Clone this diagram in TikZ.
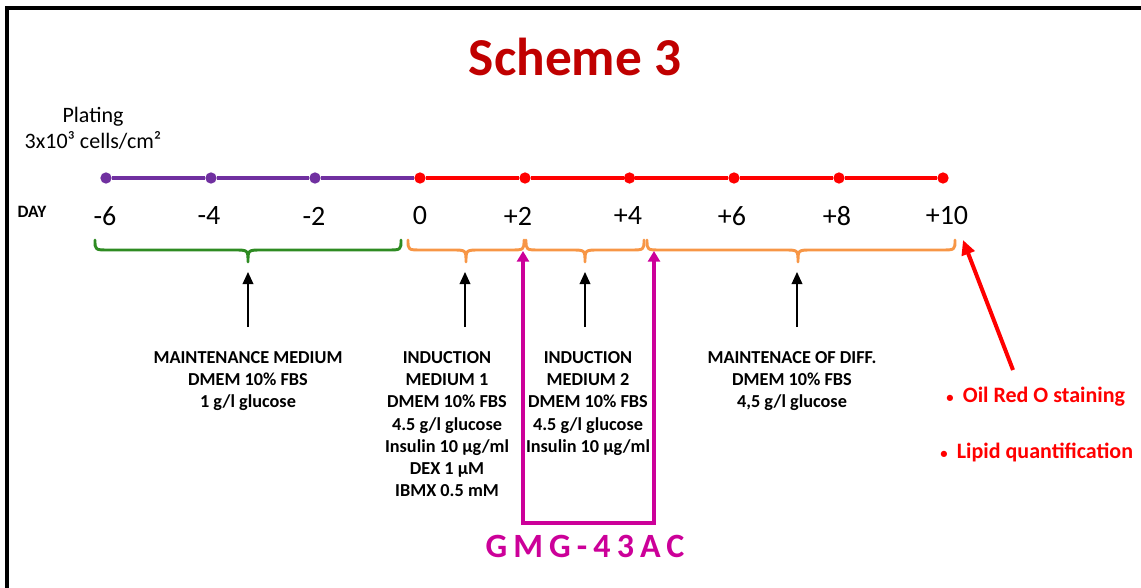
\documentclass[tikz,border=0pt]{standalone}
\usepackage{fontspec}
\setmainfont{Carlito}
\newfontfamily\spacedfont[LetterSpace=18]{Carlito}
\usetikzlibrary{arrows.meta}
\definecolor{titlered}{HTML}{C00000}
\definecolor{tlpurple}{HTML}{7030A0}
\definecolor{tlred}{HTML}{FF0000}
\definecolor{brgreen}{HTML}{2E8B22}
\definecolor{brorange}{HTML}{F79646}
\definecolor{magent}{HTML}{CC0099}
\newcommand\mybrace[4]{\draw[bracestyle,#4] (#1,240) .. controls (#1,250) .. (#1+14,250) -- (#2-14,250) .. controls (#2,250) .. (#2,262) .. controls (#2,250) .. (#2+14,250) -- (#3-14,250) .. controls (#3,250) .. (#3,240);}
\newcommand\smallbullet{{\fontsize{11}{11}\selectfont•}\hspace{7pt}}
\begin{document}
\begin{tikzpicture}[x=0.75pt,y=-0.75pt,
  dotp/.style={circle,fill=tlpurple,inner sep=0pt,minimum size=8.5pt},
  dotr/.style={circle,fill=tlred,inner sep=0pt,minimum size=8.5pt},
  daylab/.style={font=\fontsize{21}{25}\selectfont,inner sep=0pt},
  medium/.style={font=\fontsize{13.7}{16.7}\selectfont\bfseries,align=center,inner sep=0pt,anchor=north},
  redtxt/.style={font=\fontsize{16.5}{20}\selectfont\bfseries,text=tlred,inner sep=0pt,anchor=west},
  bracestyle/.style={line width=2.2pt,line cap=round,line join=round},
  uparrow/.style={-{Triangle[width=8pt,length=9pt]},line width=1.1pt,black},
  magarrow/.style={{Triangle[width=9pt,length=8pt]}-{Triangle[width=9pt,length=8pt]},magent,line width=3pt},
  tline/.style={line width=2.4pt}]
\useasboundingbox (0,0) rectangle (1141,588);
% frame
\draw[line width=2.3pt] (7,588) -- (7,8) -- (1141,8);
% title
\node[font=\fontsize{40}{48}\selectfont\bfseries,text=titlered,inner sep=0pt] (title) at (575,57) {Scheme 3};
\node[font=\fontsize{16.5}{19.5}\selectfont,align=center,inner sep=0pt] (plating) at (93,128) {Plating\\3x10³ cells/cm²};
\node[font=\fontsize{13}{15}\selectfont\bfseries,inner sep=0pt] (day) at (32,212) {DAY};
% timeline dots
\node[dotp] (d1) at (106,178) {};
\node[dotp] (d2) at (211,178) {};
\node[dotp] (d3) at (315,178) {};
\node[dotr] (d4) at (420,178) {};
\node[dotr] (d5) at (525,178) {};
\node[dotr] (d6) at (629.5,178) {};
\node[dotr] (d7) at (734,178) {};
\node[dotr] (d8) at (839,178) {};
\node[dotr] (d9) at (943,178) {};
\draw[tline,tlpurple] (d1) -- (d2) -- (d3) -- (d4);
\draw[tline,tlred] (d4) -- (d5) -- (d6) -- (d7) -- (d8) -- (d9);
% day labels
\node[daylab] (l1) at (105,216) {-6};
\node[daylab] (l2) at (209,216) {-4};
\node[daylab] (l3) at (314,216) {-2};
\node[daylab] (l4) at (420,216) {0};
\node[daylab] (l5) at (518,216) {+2};
\node[daylab] (l6) at (628,216) {+4};
\node[daylab] (l7) at (732,216) {+6};
\node[daylab] (l8) at (837,216) {+8};
\node[daylab] (l9) at (947,216) {+10};
% braces
\mybrace{95}{248}{401}{brgreen}
\mybrace{408}{466}{524}{brorange}
\mybrace{526}{585}{644}{brorange}
\mybrace{647}{798}{955}{brorange}
% medium descriptions
\node[medium] (mm) at (248,351) {MAINTENANCE MEDIUM\\DMEM 10\% FBS\\1 g/l glucose};
\node[medium] (im1) at (447,351) {INDUCTION\\MEDIUM 1\\DMEM 10\% FBS\\4.5 g/l glucose\\Insulin 10 μg/ml\\DEX 1 μM\\IBMX 0.5 mM};
\node[medium] (im2) at (588,351) {INDUCTION\\MEDIUM 2\\DMEM 10\% FBS\\4.5 g/l glucose\\Insulin 10 μg/ml};
\node[medium] (md) at (792,351) {MAINTENACE OF DIFF.\\DMEM 10\% FBS\\4,5 g/l glucose};
% black arrows
\coordinate (a1s) at (248,327); \coordinate (a1e) at (248,272);
\coordinate (a2s) at (465,327); \coordinate (a2e) at (465,272);
\coordinate (a3s) at (585,327); \coordinate (a3e) at (585,272);
\coordinate (a4s) at (797,327); \coordinate (a4e) at (797,272);
\draw[uparrow] (a1s) -- (a1e);
\draw[uparrow] (a2s) -- (a2e);
\draw[uparrow] (a3s) -- (a3e);
\draw[uparrow] (a4s) -- (a4e);
% magenta bracket
\coordinate (m1) at (523,251);
\coordinate (m1b) at (523,523);
\coordinate (m2b) at (654,523);
\coordinate (m2) at (654,251);
\draw[magarrow] (m1) -- (m1b) -- (m2b) -- (m2);
\node[font=\fontsize{25.5}{30}\selectfont\spacedfont\bfseries,text=magent,inner sep=0pt] (gmg) at (585,546) {GMG-43AC};
% red results
\node[redtxt] (oil) at (946,397) {\smallbullet Oil Red O staining};
\node[redtxt] (lip) at (940,452) {\smallbullet Lipid quantification};
\coordinate (rs) at (1013,370);
\coordinate (re) at (963,240);
\draw[-{Triangle[width=10pt,length=11pt]},line width=3pt,tlred] (rs) -- (re);
\end{tikzpicture}
\end{document}
